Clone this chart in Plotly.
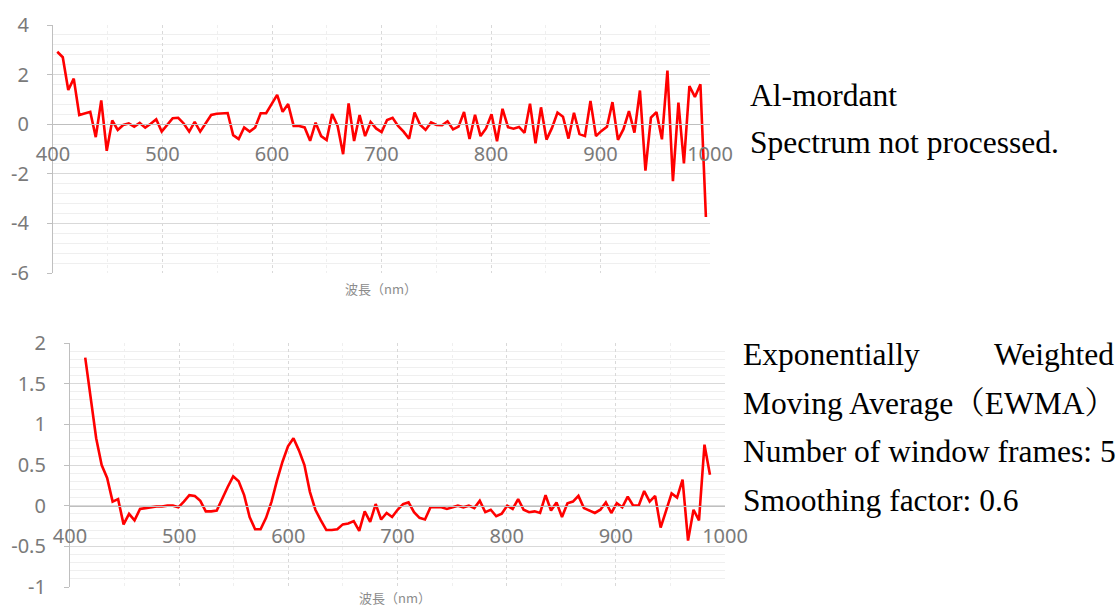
import plotly.graph_objects as go

# ---------------- data ----------------
# wavelength sampling (nm), 119 samples
wavelength = [round(403.9 + 5.02 * i, 2) for i in range(119)]

raw_signal = [
    2.92, 2.70, 1.38, 1.84, 0.37, 0.44, 0.50, -0.52, 0.96, -1.07,
    0.15, -0.23, -0.03, 0.03, -0.10, 0.05, -0.14, 0.02, 0.20, -0.30,
    -0.03, 0.24, 0.26, 0.03, -0.30, 0.09, -0.30, 0.03, 0.37, 0.42,
    0.43, 0.45, -0.44, -0.60, -0.13, -0.30, -0.13, 0.44, 0.44, 0.84,
    1.18, 0.50, 0.81, -0.07, -0.07, -0.13, -0.67, 0.06, -0.48, -0.64,
    0.41, -0.07, -1.21, 0.84, -0.68, 0.37, -0.48, 0.09, -0.17, -0.32,
    0.17, 0.26, -0.07, -0.30, -0.59, 0.47, -0.02, -0.23, 0.07, -0.03,
    -0.04, 0.12, -0.21, -0.10, 0.49, -0.60, 0.38, -0.48, -0.17, 0.40,
    -0.69, 0.62, -0.12, -0.18, -0.11, -0.35, 0.83, -0.77, 0.68, -0.62,
    -0.15, 0.47, 0.30, -0.58, 0.46, -0.40, -0.48, 0.94, -0.48, -0.27,
    -0.10, 0.89, -0.63, -0.20, 0.53, -0.34, 1.36, -1.87, 0.27, 0.49,
    -0.61, 2.16, -2.30, 0.87, -1.58, 1.54, 1.10, 1.61, -3.74,
]

# EWMA-smoothed signal (window 5 -> first/last two samples dropped)
ewma_wavelength = wavelength[2:117]
ewma_signal = [
    1.82, 1.32, 0.83, 0.50, 0.34, 0.05, 0.08, -0.23, -0.10, -0.18,
    -0.04, -0.03, -0.02, -0.01, -0.01, 0.00, 0.00, -0.02, 0.05, 0.13,
    0.12, 0.06, -0.07, -0.07, -0.06, 0.09, 0.23, 0.36, 0.30, 0.13,
    -0.14, -0.29, -0.29, -0.15, 0.05, 0.31, 0.54, 0.73, 0.83, 0.68,
    0.50, 0.17, -0.05, -0.18, -0.30, -0.30, -0.29, -0.23, -0.22, -0.19,
    -0.31, -0.07, -0.20, 0.02, -0.17, -0.09, -0.14, -0.05, 0.02, 0.04,
    -0.08, -0.15, -0.17, -0.02, -0.02, -0.02, -0.04, -0.02, 0.00, -0.02,
    0.00, -0.03, 0.06, -0.08, -0.05, -0.13, -0.10, 0.00, -0.04, 0.08,
    -0.05, -0.08, -0.07, -0.09, 0.13, -0.06, 0.04, -0.14, 0.03, 0.05,
    0.12, -0.03, -0.06, -0.09, -0.05, 0.04, -0.09, 0.03, -0.02, 0.11,
    0.00, 0.00, 0.18, 0.05, 0.12, -0.27, -0.06, 0.15, 0.10, 0.32,
    -0.43, -0.05, -0.18, 0.75, 0.38,
]

x_ticks = [400, 500, 600, 700, 800, 900, 1000]
x_ticklabels = ["400", "500", "600", "700", "800", "900", "1000"]
top_yticks = [-6, -4, -2, 0, 2, 4]
top_yticklabels = ["-6", "-4", "-2", "0", "2", "4"]
bot_yticks = [-1, -0.5, 0, 0.5, 1, 1.5, 2]
bot_yticklabels = ["-1", "-0.5", "0", "0.5", "1", "1.5", "2"]

axis_title = "波長（nm）"
top_notes = ["Al-mordant", "Spectrum not processed."]
bottom_notes = ["Moving Average（EWMA）", "Number of window frames: 5", "Smoothing factor: 0.6"]
bottom_first_line = ("Exponentially", "Weighted")

# ---------------- layout helpers ----------------
W, H = 1117, 610
def fx(px):
    return px / W
def fy(py):
    return 1 - py / H

TICK_FONT = dict(family="Noto Sans, Open Sans, sans-serif", size=20, color="#7a7a7a")
GRID = "#d9d9d9"
MINOR_GRID = "#efefef"
AXIS_LINE = "#bfbfbf"
NOTE_FONT = dict(family="Liberation Serif, Noto Serif CJK JP, Noto Sans CJK JP, serif", size=31.5, color="#000000")
TITLE_FONT = dict(family="Noto Sans CJK JP, sans-serif", size=13, color="#8c8c8c")

top_ydom = [fy(273), fy(25)]
bot_ydom = [fy(587), fy(343)]
top_zero = top_ydom[0] + (0 - (-6)) / 10 * (top_ydom[1] - top_ydom[0])
bot_zero = bot_ydom[0] + (0 - (-1)) / 3 * (bot_ydom[1] - bot_ydom[0])

fig = go.Figure()
fig.add_trace(go.Scatter(x=wavelength, y=raw_signal, mode="lines",
                         line=dict(color="#ff0000", width=2.6),
                         xaxis="x", yaxis="y", showlegend=False))
fig.add_trace(go.Scatter(x=ewma_wavelength, y=ewma_signal, mode="lines",
                         line=dict(color="#ff0000", width=2.6),
                         xaxis="x2", yaxis="y2", showlegend=False))

def xaxis_cfg(dom, pos):
    return dict(
        domain=dom, range=[400, 1000], anchor="free", position=pos,
        tickmode="array", tickvals=x_ticks, ticktext=x_ticklabels,
        tickfont=TICK_FONT, ticks="", ticklabelstandoff=12,
        showline=True, linecolor=AXIS_LINE, linewidth=1.2,
        showgrid=True, gridcolor=GRID, gridwidth=1, griddash="dot",
        minor=dict(tickmode="linear", tick0=400, dtick=50, showgrid=True,
                   gridcolor=MINOR_GRID, griddash="dot", ticks=""),
        zeroline=False, fixedrange=True, automargin=False,
    )

def yaxis_cfg(dom, rng, tv, tt, mdt, anchor):
    return dict(
        domain=dom, range=rng, anchor=anchor,
        tickmode="array", tickvals=tv, ticktext=tt,
        tickfont=TICK_FONT, ticks="outside", ticklen=5, tickcolor=AXIS_LINE,
        ticklabelstandoff=14,
        showline=True, linecolor=AXIS_LINE, linewidth=1.2,
        showgrid=True, gridcolor=GRID, gridwidth=1.2,
        minor=dict(tickmode="linear", tick0=rng[0], dtick=mdt, showgrid=True,
                   gridcolor=MINOR_GRID, ticks=""),
        zeroline=False, fixedrange=True, automargin=False,
    )

annotations = []
annotations.append(dict(text=axis_title, x=fx(381), y=fy(288), xref="paper", yref="paper",
                        showarrow=False, xanchor="center", yanchor="middle", font=TITLE_FONT))
annotations.append(dict(text=axis_title, x=fx(395), y=fy(609), xref="paper", yref="paper",
                        showarrow=False, xanchor="center", yanchor="bottom", font=TITLE_FONT))

top_note_y = [95, 143]
for t, yy in zip(top_notes, top_note_y):
    annotations.append(dict(text=t, x=fx(748), y=fy(yy), xref="paper", yref="paper",
                            showarrow=False, xanchor="left", yanchor="middle", font=NOTE_FONT))

annotations.append(dict(text=bottom_first_line[0], x=fx(741), y=fy(354), xref="paper", yref="paper",
                        showarrow=False, xanchor="left", yanchor="middle", font=NOTE_FONT))
annotations.append(dict(text=bottom_first_line[1], x=fx(1116), y=fy(354), xref="paper", yref="paper",
                        showarrow=False, xanchor="right", yanchor="middle", font=NOTE_FONT))
bottom_note_y = [403, 451, 500]
for t, yy in zip(bottom_notes, bottom_note_y):
    annotations.append(dict(text=t, x=fx(741), y=fy(yy), xref="paper", yref="paper",
                            showarrow=False, xanchor="left", yanchor="middle", font=NOTE_FONT))

fig.update_layout(
    width=W, height=H,
    margin=dict(l=0, r=0, t=0, b=0, autoexpand=False),
    paper_bgcolor="#ffffff", plot_bgcolor="#ffffff",
    xaxis=xaxis_cfg([fx(53), fx(710)], top_zero),
    yaxis=yaxis_cfg(top_ydom, [-6, 4], top_yticks, top_yticklabels, 0.4, "x"),
    xaxis2=xaxis_cfg([fx(70), fx(725)], bot_zero),
    yaxis2=yaxis_cfg(bot_ydom, [-1, 2], bot_yticks, bot_yticklabels, 0.1, "x2"),
    annotations=annotations,
    showlegend=False,
)

fig.write_html("out.html", include_plotlyjs=True,
               config={"displayModeBar": False},
               post_script="document.body.style.margin='0';document.body.style.overflow='hidden';")
